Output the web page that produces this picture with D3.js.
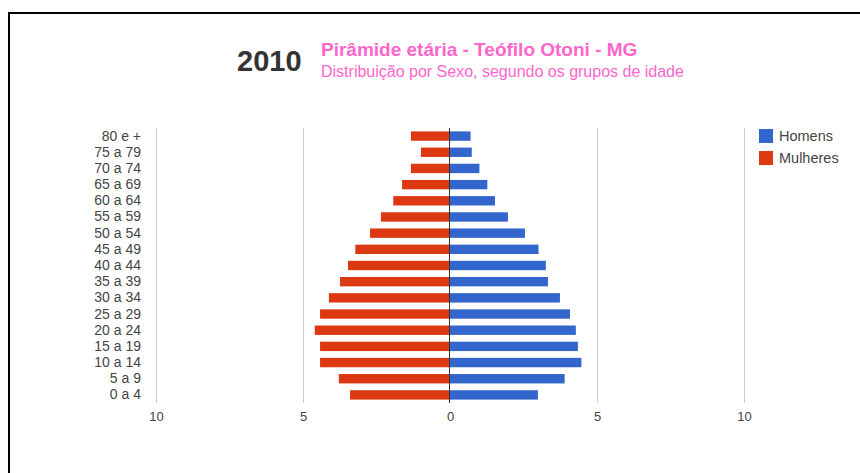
<!DOCTYPE html>
<html>
<head>
<meta charset="utf-8">
<script src="https://cdn.jsdelivr.net/npm/d3@7"></script>
<style>
  html, body { margin: 0; padding: 0; background: #fff; }
  svg { display: block; font-family: "Liberation Sans", Arial, sans-serif; }
</style>
</head>
<body>
<script>
const categories = ["80 e +", "75 a 79", "70 a 74", "65 a 69", "60 a 64", "55 a 59", "50 a 54", "45 a 49", "40 a 44", "35 a 39", "30 a 34", "25 a 29", "20 a 24", "15 a 19", "10 a 14", "5 a 9", "0 a 4"];
const homens   = [0.70, 0.74, 1.00, 1.27, 1.53, 1.97, 2.55, 3.01, 3.26, 3.33, 3.74, 4.08, 4.28, 4.35, 4.47, 3.90, 2.99];
const mulheres = [1.33, 0.99, 1.33, 1.63, 1.93, 2.35, 2.72, 3.22, 3.47, 3.74, 4.12, 4.42, 4.60, 4.42, 4.42, 3.78, 3.40];
const xTicks = [-10, -5, 0, 5, 10];
const seriesNames = ["Homens", "Mulheres"];
const year = "2010";
const title = "Pirâmide etária - Teófilo Otoni - MG";
const subtitle = "Distribuição por Sexo, segundo os grupos de idade";

const W = 860, H = 473;
const colors = { Homens: "#3366CC", Mulheres: "#DC3912" };

const svg = d3.select("body").append("svg").attr("width", W).attr("height", H);

// frame
svg.append("rect").attr("x", 9).attr("y", 13).attr("width", W + 10).attr("height", H + 10)
  .attr("fill", "none").attr("stroke", "#000").attr("stroke-width", 2);

const x = d3.scaleLinear().domain([-10, 10]).range([156, 744]);
const y = d3.scaleBand().domain(categories).range([128, 403]).paddingInner(0.42).paddingOuter(0.21);

// gridlines
svg.append("g").selectAll("line").data(xTicks.filter(t => t !== 0)).join("line")
  .attr("x1", d => Math.round(x(d)) + 0.5).attr("x2", d => Math.round(x(d)) + 0.5)
  .attr("y1", 128).attr("y2", 403)
  .attr("stroke", "#cccccc").attr("stroke-width", 1);

// bars
const rows = categories.map((c, i) => ({ c, h: homens[i], m: mulheres[i] }));
svg.append("g").selectAll("rect").data(rows).join("rect")
  .attr("x", d => x(-d.m)).attr("width", d => x(0) - x(-d.m))
  .attr("y", d => y(d.c)).attr("height", y.bandwidth())
  .attr("fill", colors.Mulheres);
svg.append("g").selectAll("rect").data(rows).join("rect")
  .attr("x", x(0)).attr("width", d => x(d.h) - x(0))
  .attr("y", d => y(d.c)).attr("height", y.bandwidth())
  .attr("fill", colors.Homens);

// zero line
svg.append("line")
  .attr("x1", Math.round(x(0)) - 0.5).attr("x2", Math.round(x(0)) - 0.5)
  .attr("y1", 128).attr("y2", 403)
  .attr("stroke", "#333").attr("stroke-width", 1);

// x axis labels
const xAxis = d3.axisBottom(x).tickValues(xTicks).tickSize(0).tickPadding(0).tickFormat(d => Math.abs(d));
const gx = svg.append("g").attr("transform", "translate(0,412)").call(xAxis);
gx.select(".domain").remove();
gx.selectAll("text").attr("font-size", 13).attr("fill", "#444").attr("font-family", "Liberation Sans, Arial, sans-serif");

// y axis labels
const yAxis = d3.axisLeft(y).tickSize(0).tickPadding(0);
const gy = svg.append("g").attr("transform", "translate(141,0)").call(yAxis);
gy.select(".domain").remove();
gy.selectAll("text").attr("font-size", 14).attr("fill", "#444").attr("font-family", "Liberation Sans, Arial, sans-serif");

// titles
svg.append("text").attr("x", 237).attr("y", 71).text(year)
  .attr("font-size", 29).attr("font-weight", "bold").attr("fill", "#333");
svg.append("text").attr("x", 321).attr("y", 56).text(title)
  .attr("font-size", 19).attr("font-weight", "bold").attr("fill", "#FF66CC");
svg.append("text").attr("x", 321).attr("y", 77).text(subtitle)
  .attr("font-size", 16).attr("fill", "#FF66CC");

// legend
const lg = svg.append("g").selectAll("g").data(seriesNames).join("g")
  .attr("transform", (d, i) => `translate(759,${129 + i * 22})`);
lg.append("rect").attr("width", 14).attr("height", 14).attr("fill", d => colors[d]);
lg.append("text").attr("x", 20).attr("y", 12).text(d => d)
  .attr("font-size", 14.5).attr("fill", "#444");
</script>
</body>
</html>
